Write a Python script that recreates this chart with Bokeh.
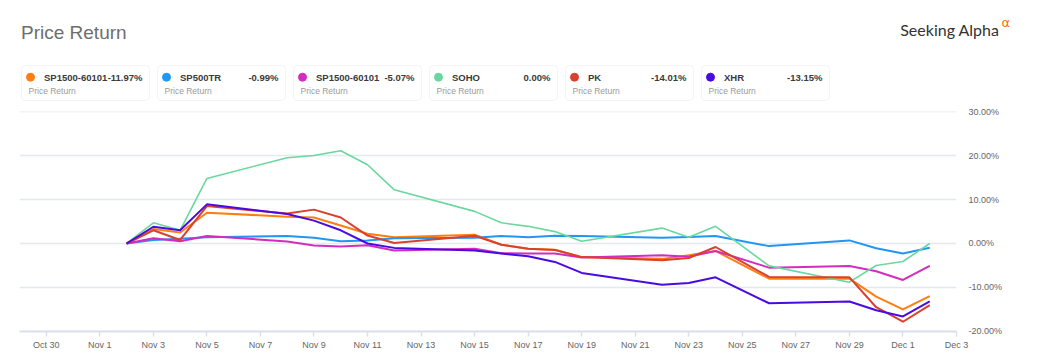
import pandas as pd
from bokeh.plotting import figure
from bokeh.models import Range1d, FixedTicker, PrintfTickFormatter, BoxAnnotation, ColumnDataSource
from bokeh.core.properties import value
from bokeh.embed import file_html
from bokeh.resources import INLINE

# ---------------- data ----------------
dates = ["2021-11-02", "2021-11-03", "2021-11-04", "2021-11-05", "2021-11-08",
         "2021-11-09", "2021-11-10", "2021-11-11", "2021-11-12", "2021-11-15",
         "2021-11-16", "2021-11-17", "2021-11-18", "2021-11-19", "2021-11-22",
         "2021-11-23", "2021-11-24", "2021-11-26", "2021-11-29", "2021-11-30",
         "2021-12-01", "2021-12-02"]

series_names = ["SP1500-60101", "SP500TR", "SP1500-60101", "SOHO", "PK", "XHR"]
series_colors = ["#ff7d12", "#2196f3", "#d42bc0", "#6ad89e", "#d8412f", "#4a0be0"]
series_widths = [2, 2, 2, 1.6, 2, 2]

sp1500_a = [0, 3.3, 2.5, 7.0, 6.1, 5.9, 4.1, 2.2, 1.4, 2.0, -0.3, -1.2, -1.4, -3.1,
            -3.5, -2.7, -1.7, -8.0, -8.0, -12.1, -15.0, -11.97]
sp500tr = [0, 0.8, 1.1, 1.4, 1.7, 1.3, 0.5, 0.7, 1.2, 1.3, 1.7, 1.4, 1.75, 1.7,
           1.3, 1.5, 1.7, -0.6, 0.7, -1.1, -2.3, -0.99]
sp1500_b = [0, 1.2, 0.5, 1.7, 0.45, -0.45, -0.7, -0.4, -1.6, -1.2, -2.2, -2.3, -2.3,
            -3.2, -2.7, -3.0, -1.7, -5.5, -5.1, -6.3, -8.3, -5.07]
soho = [0, 4.7, 3.0, 14.8, 19.5, 20.0, 21.1, 17.9, 12.2, 7.3, 4.7, 3.9, 2.7, 0.5,
        3.5, 1.4, 3.9, -5.1, -8.8, -5.0, -4.1, 0.0]
pk = [0, 3.0, 0.8, 8.5, 6.8, 7.7, 5.9, 1.8, 0.1, 1.75, -0.3, -1.2, -1.5, -3.1,
      -3.8, -3.3, -0.8, -7.6, -7.7, -14.5, -17.8, -14.01]
xhr = [0, 3.8, 3.0, 8.9, 6.7, 5.2, 3.0, 0.0, -1.0, -1.6, -2.3, -2.9, -4.2, -6.7,
       -9.4, -9.0, -7.7, -13.6, -13.2, -15.2, -16.6, -13.15]

series_values = [sp1500_a, sp500tr, sp1500_b, soho, pk, xhr]

tick_dates = ["2021-10-30", "2021-11-01", "2021-11-03", "2021-11-05", "2021-11-07",
              "2021-11-09", "2021-11-11", "2021-11-13", "2021-11-15", "2021-11-17",
              "2021-11-19", "2021-11-21", "2021-11-23", "2021-11-25", "2021-11-27",
              "2021-11-29", "2021-12-01", "2021-12-03"]
tick_labels = ["Oct 30", "Nov 1", "Nov 3", "Nov 5", "Nov 7", "Nov 9", "Nov 11",
               "Nov 13", "Nov 15", "Nov 17", "Nov 19", "Nov 21", "Nov 23", "Nov 25",
               "Nov 27", "Nov 29", "Dec 1", "Dec 3"]
y_ticks = [-20, -10, 0, 10, 20, 30]

FONT = value("Liberation Sans")

# ---------------- header (title + legend cards) ----------------
HW, HH = 1030, 103
header = figure(width=HW, height=HH, x_range=Range1d(0, HW), y_range=Range1d(HH, 0),
                output_backend="svg", toolbar_location=None,
                min_border=0, min_border_left=0, min_border_right=0,
                min_border_top=0, min_border_bottom=0)
header.axis.visible = False
header.grid.visible = False
header.outline_line_color = None

header.text(x=[20.5], y=[31.5], text=["Price Return"], text_font=FONT,
            text_font_size=value("19px"), text_color="#6e6e6e",
            text_baseline="middle", text_align="left")
header.text(x=[999], y=[28.5], text=["Seeking Alpha"], text_font=value("Lato"),
            text_font_size=value("16px"), text_color="#333333",
            text_baseline="middle", text_align="right")
header.text(x=[1001], y=[21.5], text=["\u03b1"], text_font=value("DejaVu Sans"),
            text_font_size=value("13px"), text_color="#ff6a00",
            text_baseline="middle", text_align="left")

card_left0, card_step, card_w = 21, 136, 128
card_top, card_bot = 65, 100
lefts = [card_left0 + i * card_step for i in range(len(series_names))]
for l in lefts:
    header.add_layout(BoxAnnotation(left=l, right=l + card_w, top=card_top, bottom=card_bot,
                                    fill_color="white", fill_alpha=1, level="underlay",
                                    line_color="#dcdcdc", line_width=1, border_radius=4))

val_text = ["%.2f%%" % v[-1] for v in series_values]
hsrc = ColumnDataSource(dict(
    dot_x=[l + 9 for l in lefts], dot_y=[76.7] * len(lefts), color=series_colors,
    name_x=[l + 22.5 for l in lefts], name_y=[76.5] * len(lefts), name=series_names,
    val_x=[l + card_w - 7 for l in lefts], val=val_text,
    sub_x=[l + 7 for l in lefts], sub_y=[90.3] * len(lefts),
    sub=["Price Return"] * len(lefts)))
header.scatter(x="dot_x", y="dot_y", color="color", size=8, source=hsrc)
header.text(x="name_x", y="name_y", text="name", source=hsrc, text_font=FONT,
            text_font_size=value("9.5px"), text_font_style="bold", text_color="#3a3a3a",
            text_baseline="middle", text_align="left")
header.text(x="val_x", y="name_y", text="val", source=hsrc, text_font=FONT,
            text_font_size=value("9.5px"), text_font_style="bold", text_color="#3a3a3a",
            text_baseline="middle", text_align="right")
header.text(x="sub_x", y="sub_y", text="sub", source=hsrc, text_font=FONT,
            text_font_size=value("8.5px"), text_color="#9a9a9a",
            text_baseline="middle", text_align="left")

# ---------------- main chart ----------------
main = figure(width=1019, height=254, x_axis_type="datetime", y_axis_location="right",
              x_range=Range1d(pd.Timestamp("2021-10-29"), pd.Timestamp("2021-12-03")),
              y_range=Range1d(-20.02, 30.02), output_backend="svg", toolbar_location=None,
              min_border_left=19, min_border_right=63, min_border_top=8,
              min_border_bottom=26)
main.outline_line_color = None
main.xgrid.visible = False
main.ygrid.grid_line_color = "#e4e8ef"
main.ygrid.grid_line_width = 1.5
main.ygrid.ticker = FixedTicker(ticks=y_ticks)

x_dates = pd.to_datetime(dates)
for vals, col, lw in zip(series_values, series_colors, series_widths):
    main.line(x=x_dates, y=vals, line_color=col, line_width=lw, line_join="round")

tick_ms = [int(pd.Timestamp(d).value // 10**6) for d in tick_dates]
xa = main.xaxis[0]
xa.ticker = FixedTicker(ticks=tick_ms)
xa.major_label_overrides = {t: lab for t, lab in zip(tick_ms, tick_labels)}
xa.axis_line_color = "#dae1ec"
xa.axis_line_width = 2
xa.major_tick_line_color = "#dae1ec"
xa.major_tick_line_width = 1.5
xa.major_tick_out = 5
xa.major_tick_in = 0
xa.minor_tick_line_color = None
xa.major_label_standoff = 3
xa.major_label_text_font = "Liberation Sans"
xa.major_label_text_font_size = "9px"
xa.major_label_text_color = "#666666"

ya = main.yaxis[0]
ya.ticker = FixedTicker(ticks=y_ticks)
ya.formatter = PrintfTickFormatter(format="%.2f%%")
ya.axis_line_color = None
ya.major_tick_line_color = None
ya.minor_tick_line_color = None
ya.major_tick_out = 0
ya.major_tick_in = 0
ya.major_label_standoff = 12
ya.major_label_text_font = "Liberation Sans"
ya.major_label_text_font_size = "9px"
ya.major_label_text_color = "#666666"

open("out.html", "w").write(file_html([header, main], INLINE))
